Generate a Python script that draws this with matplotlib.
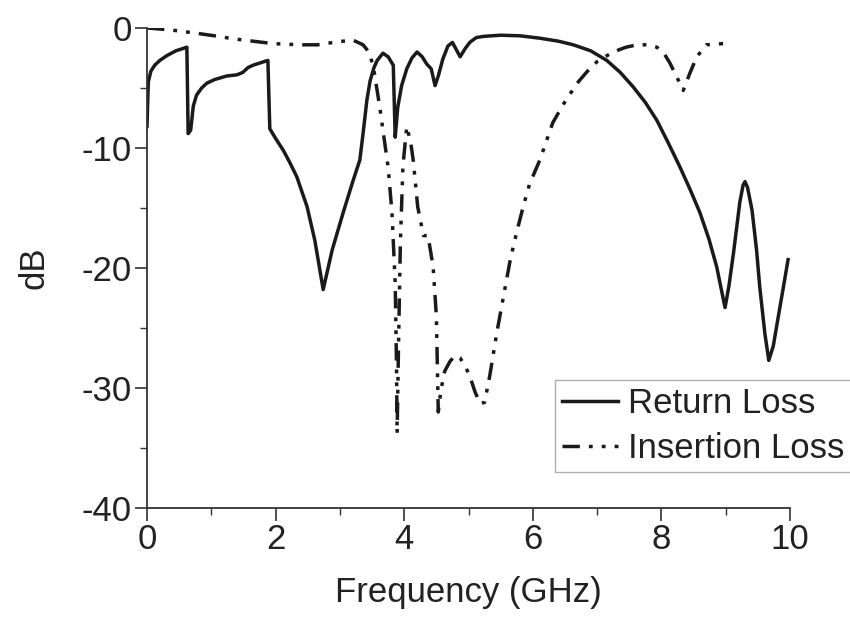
import numpy as np
import matplotlib
matplotlib.use("Agg")
import matplotlib.pyplot as plt

# Return Loss (solid)
rl_freq = [0.0, 0.02, 0.06, 0.12, 0.2, 0.31, 0.45, 0.62, 0.64, 0.68, 0.72, 0.77, 0.85,
           0.93, 1.05, 1.24, 1.4, 1.49, 1.57, 1.65, 1.88,
           1.91, 2.0, 2.12, 2.22, 2.33, 2.49, 2.61, 2.74, 2.88, 3.05, 3.2, 3.31, 3.36,
           3.42, 3.47, 3.53, 3.58, 3.67, 3.75, 3.83, 3.86, 3.9, 3.96, 4.04, 4.12, 4.2,
           4.28, 4.35, 4.42, 4.48, 4.53, 4.6, 4.68, 4.75, 4.81, 4.87, 4.95, 5.02, 5.12,
           5.23, 5.5, 5.8, 6.11, 6.4, 6.63, 6.9, 7.15, 7.36, 7.56, 7.75, 7.93, 8.1,
           8.29, 8.45, 8.6, 8.74, 8.86, 8.94, 8.99, 9.05, 9.12, 9.22, 9.27, 9.3, 9.34, 9.41,
           9.48, 9.53, 9.61, 9.67, 9.74, 9.81, 9.9, 9.97]
rl_db = [-8.2, -4.5, -3.6, -3.1, -2.7, -2.3, -1.9, -1.6, -8.8, -8.5, -6.5, -5.6, -5.0,
         -4.6, -4.3, -4.0, -3.9, -3.7, -3.3, -3.1, -2.7,
         -8.4, -9.2, -10.2, -11.2, -12.4, -14.9, -17.7, -21.8, -18.5, -15.4, -12.8, -11.0, -8.8,
         -6.0, -4.4, -3.3, -2.7, -2.1, -2.4, -3.1, -9.1, -6.6, -4.8, -3.4, -2.5, -2.0,
         -2.4, -3.0, -3.4, -4.8, -4.0, -2.6, -1.5, -1.2, -1.8, -2.4, -1.7, -1.2, -0.8,
         -0.7, -0.6, -0.65, -0.85, -1.1, -1.4, -1.9, -2.7, -3.7, -4.9, -6.2, -7.7, -9.5,
         -11.6, -13.5, -15.4, -17.6, -19.9, -22.0, -23.3, -21.5, -18.8, -14.5, -13.1, -12.8, -13.3, -15.2,
         -18.5, -21.6, -25.5, -27.7, -26.5, -24.3, -21.5, -19.3]

# Insertion Loss (dash-dot-dot)
il_freq = [0.0, 0.35, 0.72, 1.05, 1.34, 1.65, 1.96, 2.38, 2.65, 2.9, 3.2, 3.36, 3.45,
           3.52, 3.62, 3.75, 3.81, 3.86, 3.88, 3.89, 3.91, 3.94, 3.98, 4.04, 4.1, 4.14,
           4.21, 4.3, 4.37, 4.45, 4.5, 4.53, 4.57, 4.63, 4.71, 4.79, 4.87, 4.95, 5.02,
           5.1, 5.18, 5.25, 5.33, 5.44, 5.55, 5.65, 5.75, 5.85, 5.95, 6.11, 6.31, 6.47,
           6.69, 6.85, 7.0, 7.25, 7.45, 7.62, 7.8, 7.93, 8.05, 8.13, 8.25, 8.34, 8.44,
           8.55, 8.7, 8.96]
il_db = [0.0, -0.15, -0.4, -0.65, -0.9, -1.1, -1.3, -1.4, -1.4, -1.2, -1.0, -1.4, -2.0,
         -3.2, -6.6, -11.6, -15.4, -21.3, -28.0, -33.8, -27.0, -18.0, -11.5, -8.2, -9.5, -11.0,
         -14.9, -17.3, -17.3, -19.9, -24.0, -32.0, -30.2, -28.6, -27.8, -27.3, -27.5, -28.2, -29.0,
         -30.3, -31.3, -31.2, -29.0, -25.4, -22.2, -19.3, -17.0, -14.9, -13.0, -11.0, -7.9, -6.4,
         -4.6, -3.6, -2.8, -2.0, -1.6, -1.4, -1.4, -1.6, -2.2, -2.9, -4.2, -5.2, -3.8,
         -2.4, -1.4, -1.3]

freq_ticks = [0, 2, 4, 6, 8, 10]
db_ticks = [-40, -30, -20, -10, 0]

plt.rcParams['font.family'] = ['Liberation Sans', 'DejaVu Sans']
plt.rcParams['font.size'] = 25
plt.rcParams['axes.unicode_minus'] = False

fig = plt.figure(figsize=(8.5, 6.19), dpi=100)
ax = fig.add_axes([147/850, 1 - 508/619, (790 - 147)/850, (508 - 28)/619])

ink = '#1a1a1a'
ax.plot(rl_freq, rl_db, color=ink, lw=2.5, label='Return Loss')
ax.plot(il_freq, il_db, color=ink, lw=2.5,
        linestyle=(0, (5, 2.6, 1.1, 2.6, 1.1, 2.6)), label='Insertion Loss')

ax.set_xlim(0, 10)
ax.set_ylim(-40, 0)
ax.set_xticks(freq_ticks)
ax.set_yticks(db_ticks)
ax.set_xticks([1, 3, 5, 7, 9], minor=True)
ax.set_yticks([-35, -25, -15, -5], minor=True)
ax.tick_params(which='major', direction='out', length=9, width=1.2, colors='#333333')
ax.tick_params(which='minor', direction='out', length=5, width=1.0, colors='#333333')
ax.tick_params(axis='both', labelcolor='#222222', pad=2)

for side in ['top', 'right']:
    ax.spines[side].set_visible(False)
for side in ['left', 'bottom']:
    ax.spines[side].set_linewidth(1.3)
    ax.spines[side].set_color('#333333')

ax.set_xlabel('Frequency (GHz)', color='#222222', labelpad=14)
ax.set_ylabel('dB', color='#222222', labelpad=22)

leg = ax.legend(loc='upper left', bbox_to_anchor=(555/850, 1 - 380/619),
                bbox_transform=fig.transFigure, frameon=True, fancybox=False,
                handlelength=1.6, handletextpad=0.3, borderpad=0.2, labelspacing=0.35,
                borderaxespad=0, fontsize=25)
leg.get_frame().set_edgecolor('#999999')
leg.get_frame().set_linewidth(1.0)
for t in leg.get_texts():
    t.set_color('#222222')

fig.savefig('out.png', dpi=100)
